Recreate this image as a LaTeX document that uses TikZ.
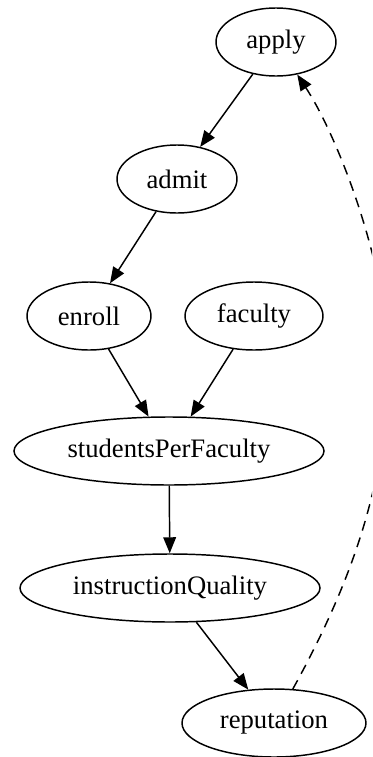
\documentclass[tikz,border=0pt]{standalone}
\usepackage{fontspec}
\setmainfont{Liberation Serif}
\usetikzlibrary{arrows.meta,shapes.geometric}

\tikzset{
  state/.style={ellipse, draw, line width=1.1pt, inner sep=0pt,
    minimum height=51pt, font=\fontsize{20}{24}\selectfont},
  link/.style={line width=1.1pt, -{Triangle[length=12pt,width=9.5pt]}},
  backlink/.style={link, dash pattern=on 7.5pt off 5.5pt}
}

\begin{document}
\begin{tikzpicture}[x=0.75pt,y=-0.75pt]
  \useasboundingbox (0,0) rectangle (372,757);
  \clip (0,0) rectangle (372,757);

  \node[state, minimum width=90pt]    (apply)  at (276,42)  {apply};
  \node[state, minimum width=90pt]    (admit)  at (177,179) {admit};
  \node[state, minimum width=93pt]    (enroll) at (89,316)  {enroll};
  \node[state, minimum width=103.5pt] (fac)    at (254,316) {faculty};
  \node[state, minimum width=232.5pt] (spf)    at (169,451) {studentsPerFaculty};
  \node[state, minimum width=225pt]   (iq)     at (170,588) {instructionQuality};
  \node[state, minimum width=138pt]   (rep)    at (274,723) {reputation};

  % turning point of the feedback edge, right of the frame
  \coordinate (bend) at (388,362);

  \draw[link] (apply) -- (admit);
  \draw[link] (admit) -- (enroll);
  \draw[link] (enroll) -- (spf);
  \draw[link] (fac) -- (spf);
  \draw[link] (spf) -- (iq);
  \draw[link] (iq) -- (rep);
  \draw[backlink] (rep) .. controls (352,582) and (388,480) .. (bend)
                        .. controls (388,270) and (340,140) .. (apply);
\end{tikzpicture}
\end{document}
